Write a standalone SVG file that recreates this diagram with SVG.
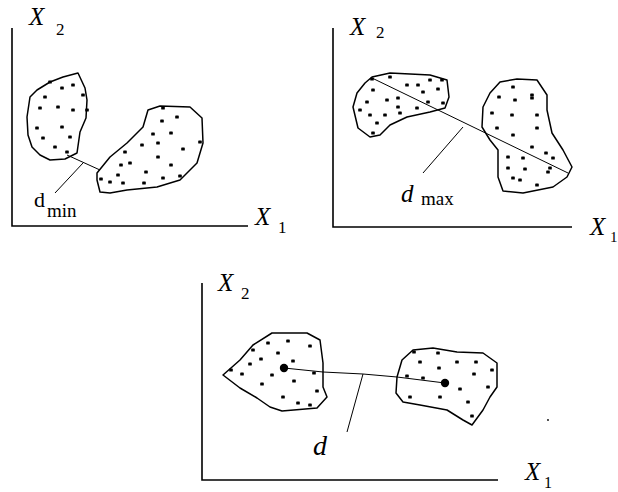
<svg xmlns="http://www.w3.org/2000/svg" width="618" height="492" viewBox="0 0 618 492">
<style>
.ax{fill:none;stroke:#000;stroke-width:1.6}
.bl{fill:none;stroke:#000;stroke-width:1.5;stroke-linejoin:round}
.ln{fill:none;stroke:#000;stroke-width:1}
.dt{fill:#000}
text{font-family:'Liberation Serif','Times New Roman',serif;fill:#000}
.lx{font-style:italic}
</style>
<defs>
<rect id="p" x="-1.8" y="-1.6" width="3.6" height="3.2" rx="0.7"/>
</defs>
<rect width="618" height="492" fill="#fff"/>

<!-- Panel 1: minimum distance -->
<g id="axes1">
<path class="ax" d="M12,28 V226 H248"/>
<text class="lx" x="29" y="25" font-size="25">X</text><text x="56" y="35" font-size="17">2</text>
<text class="lx" x="255" y="225" font-size="25">X</text><text x="278" y="233" font-size="17">1</text>
</g>
<g id="cluster1a">
<path class="bl" d="M78,73 L63,77 L50,82 L37,90 L30,97 L27,117 L28,135 L32,147 L40,155 L50,160 L65,159 L77,153 L80,132 L86,118 L87,100 L85,88 Z"/>
<g class="dt">
<use href="#p" x="50" y="82"/><use href="#p" x="62" y="88"/><use href="#p" x="73" y="85"/><use href="#p" x="83" y="95"/><use href="#p" x="45" y="97"/><use href="#p" x="40" y="108"/><use href="#p" x="58" y="107"/><use href="#p" x="73" y="110"/><use href="#p" x="87" y="110"/><use href="#p" x="37" y="128"/><use href="#p" x="62" y="127"/><use href="#p" x="43" y="138"/><use href="#p" x="70" y="137"/><use href="#p" x="55" y="147"/><use href="#p" x="67" y="152"/>
</g>
</g>
<g id="cluster1b">
<path class="bl" d="M100,192 L97,180 L97,173 L110,157 L127,143 L143,127 L148,110 L160,106 L190,107 L202,118 L203,143 L197,163 L180,180 L157,187 L127,190 L110,193 Z"/>
<g class="dt">
<use href="#p" x="163" y="108"/><use href="#p" x="162" y="121"/><use href="#p" x="177" y="117"/><use href="#p" x="153" y="134"/><use href="#p" x="171" y="133"/><use href="#p" x="200" y="142"/><use href="#p" x="142" y="145"/><use href="#p" x="158" y="143"/><use href="#p" x="125" y="152"/><use href="#p" x="183" y="149"/><use href="#p" x="158" y="157"/><use href="#p" x="130" y="163"/><use href="#p" x="121" y="165"/><use href="#p" x="171" y="165"/><use href="#p" x="146" y="172"/><use href="#p" x="118" y="175"/><use href="#p" x="101" y="179"/><use href="#p" x="110" y="182"/><use href="#p" x="123" y="183"/><use href="#p" x="144" y="183"/><use href="#p" x="163" y="178"/><use href="#p" x="180" y="176"/>
</g>
</g>
<g id="label-dmin">
<text x="34" y="207" font-size="22">d</text><text x="47" y="217" font-size="19">min</text>
</g>

<!-- Panel 2: maximum distance -->
<g id="axes2">
<path class="ax" d="M333,28 V227 H572"/>
<text class="lx" x="350" y="35" font-size="25">X</text><text x="376" y="38" font-size="17">2</text>
<text class="lx" x="590" y="235" font-size="25">X</text><text x="610" y="242" font-size="15">1</text>
</g>
<g id="cluster2a">
<path class="bl" d="M372,77 L390,73 L430,75 L447,80 L449,97 L445,108 L430,112 L407,117 L390,125 L380,135 L370,137 L358,128 L353,107 L357,93 L365,83 Z"/>
<g class="dt">
<use href="#p" x="372" y="79"/><use href="#p" x="390" y="77"/><use href="#p" x="407" y="85"/><use href="#p" x="418" y="85"/><use href="#p" x="423" y="92"/><use href="#p" x="438" y="89"/><use href="#p" x="442" y="80"/><use href="#p" x="373" y="90"/><use href="#p" x="387" y="100"/><use href="#p" x="398" y="98"/><use href="#p" x="398" y="107"/><use href="#p" x="417" y="108"/><use href="#p" x="360" y="110"/><use href="#p" x="367" y="102"/><use href="#p" x="370" y="115"/><use href="#p" x="385" y="115"/><use href="#p" x="400" y="113"/><use href="#p" x="377" y="123"/><use href="#p" x="373" y="133"/><use href="#p" x="428" y="102"/><use href="#p" x="443" y="103"/><use href="#p" x="430" y="80"/>
</g>
</g>
<g id="cluster2b">
<path class="bl" d="M500,82 L517,79 L537,80 L547,95 L547,110 L552,133 L563,150 L572,167 L567,177 L553,187 L523,193 L503,191 L498,177 L498,150 L490,140 L482,127 L483,107 L490,93 Z"/>
<g class="dt">
<use href="#p" x="513" y="87"/><use href="#p" x="499" y="97"/><use href="#p" x="515" y="100"/><use href="#p" x="532" y="95"/><use href="#p" x="532" y="98"/><use href="#p" x="492" y="113"/><use href="#p" x="512" y="115"/><use href="#p" x="537" y="115"/><use href="#p" x="497" y="128"/><use href="#p" x="513" y="135"/><use href="#p" x="537" y="128"/><use href="#p" x="532" y="147"/><use href="#p" x="546" y="153"/><use href="#p" x="508" y="157"/><use href="#p" x="523" y="158"/><use href="#p" x="553" y="158"/><use href="#p" x="508" y="168"/><use href="#p" x="525" y="169"/><use href="#p" x="548" y="172"/><use href="#p" x="513" y="178"/><use href="#p" x="520" y="180"/><use href="#p" x="537" y="185"/><use href="#p" x="550" y="168"/>
</g>
</g>
<g id="label-dmax">
<text class="lx" x="401" y="202" font-size="25">d</text><text x="421" y="205" font-size="19">max</text>
</g>

<!-- Panel 3: centroid distance -->
<g id="axes3">
<path class="ax" d="M202,283 V480 H498"/>
<text class="lx" x="218" y="291" font-size="25">X</text><text x="241" y="299" font-size="17">2</text>
<text class="lx" x="525" y="480" font-size="25">X</text><text x="544" y="488" font-size="16">1</text>
</g>
<g id="cluster3a">
<path class="bl" d="M223,375 L240,360 L253,345 L272,333 L307,333 L320,340 L323,363 L323,387 L327,397 L317,408 L282,411 L270,407 L257,398 L240,388 Z"/>
<g class="dt">
<use href="#p" x="268" y="343"/><use href="#p" x="288" y="341"/><use href="#p" x="310" y="346"/><use href="#p" x="278" y="353"/><use href="#p" x="253" y="350"/><use href="#p" x="261" y="359"/><use href="#p" x="293" y="361"/><use href="#p" x="250" y="364"/><use href="#p" x="231" y="370"/><use href="#p" x="242" y="374"/><use href="#p" x="272" y="375"/><use href="#p" x="294" y="381"/><use href="#p" x="262" y="384"/><use href="#p" x="314" y="373"/><use href="#p" x="317" y="391"/><use href="#p" x="283" y="397"/><use href="#p" x="298" y="403"/><use href="#p" x="310" y="405"/>
</g>
<circle cx="284" cy="368" r="4.2" fill="#000"/>
</g>
<g id="cluster3b">
<path class="bl" d="M397,377 L402,360 L413,350 L433,348 L457,352 L483,353 L497,363 L497,387 L490,397 L483,410 L472,425 L463,420 L447,410 L420,405 L403,402 L396,393 Z"/>
<g class="dt">
<use href="#p" x="414" y="352"/><use href="#p" x="438" y="353"/><use href="#p" x="457" y="362"/><use href="#p" x="476" y="362"/><use href="#p" x="420" y="362"/><use href="#p" x="439" y="368"/><use href="#p" x="474" y="374"/><use href="#p" x="492" y="370"/><use href="#p" x="407" y="376"/><use href="#p" x="423" y="378"/><use href="#p" x="460" y="389"/><use href="#p" x="488" y="387"/><use href="#p" x="410" y="397"/><use href="#p" x="440" y="397"/><use href="#p" x="468" y="402"/><use href="#p" x="472" y="416"/>
</g>
<circle cx="445" cy="383" r="4.2" fill="#000"/>
</g>
<g id="label-d">
<text class="lx" x="313" y="455" font-size="28">d</text>
</g>
<circle cx="548" cy="420" r="0.9" fill="#000"/>

<!-- Connectors -->
<g id="connectors">
<line class="ln" x1="67" y1="155" x2="100" y2="170"/>
<line class="ln" x1="55" y1="193" x2="83" y2="163"/>
<line class="ln" x1="372" y1="78" x2="568" y2="173"/>
<line class="ln" x1="423" y1="173" x2="463" y2="127"/>
<polyline class="ln" points="284,368 323,372 363,374 397,377 445,383"/>
<line class="ln" x1="347" y1="432" x2="363" y2="374"/>
</g>
</svg>
